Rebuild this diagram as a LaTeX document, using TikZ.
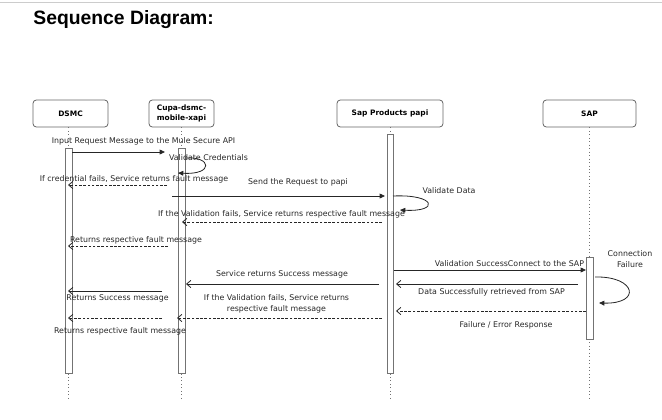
\documentclass[tikz,border=0pt]{standalone}
\usepackage{fontspec}
\setmainfont{DejaVu Sans}
\newfontfamily\titlefont{Liberation Sans}
\usepackage{tikz}
\usetikzlibrary{arrows,arrows.meta,positioning}

\begin{document}
\begin{tikzpicture}[x=0.75pt,y=-0.75pt,semithick,line width=0.6pt,
	head/.style={draw=black!60,rounded corners=2.5pt,minimum height=20.25pt,inner sep=1pt,align=center,font=\fontsize{5.6}{7}\selectfont\bfseries},
	bar/.style={draw=black!55,fill=white,line width=0.6pt},
	lifeline/.style={draw=black!55,dotted,line width=0.6pt},
	msg/.style={font=\fontsize{5.9}{8.2}\selectfont,inner sep=0pt,align=center,text=black!85},
	call/.style={-{Triangle[length=4pt,width=3.6pt]},black!85},
	reply/.style={-{Straight Barb[length=3.2pt,width=5.4pt]},black!85},
	fault/.style={-{Straight Barb[length=3.2pt,width=5.4pt]},black!85,dash pattern=on 2pt off 1.2pt}]
	\useasboundingbox (0,0) rectangle (662,419);
	\draw[black!20] (0,2) -- (662,2);
	\node[anchor=base west,inner sep=0pt,font=\titlefont\fontsize{14.5}{16}\selectfont\bfseries] (title) at (33,24) {Sequence Diagram:};

	% lifelines
	\node[head,minimum width=56.25pt]	(dsmc)	at (70.5,113.5)	{DSMC};
	\node[head,minimum width=48.75pt]	(cupa)	at (181.5,113.5)	{Cupa-dsmc-\\mobile-xapi};
	\node[head,minimum width=79.5pt]	(papi)	at (390,113.5)	{Sap Products papi};
	\node[head,minimum width=69.75pt]	(sap)	at (589.5,113.5)	{SAP};
	\coordinate (dsmcend) at (68.5,400);
	\coordinate (cupaend) at (181.5,400);
	\coordinate (papiend) at (390,400);
	\coordinate (sapend) at (589.5,400);
	\draw[lifeline] (dsmc.south -| dsmcend) -- (dsmcend);
	\draw[lifeline] (cupa.south) -- (cupaend);
	\draw[lifeline] (papi.south) -- (papiend);
	\draw[lifeline] (sap.south) -- (sapend);
	\draw[bar] (65,148) rectangle (72,373);
	\draw[bar] (178,148) rectangle (185,373);
	\draw[bar] (387,134) rectangle (393,373);
	\draw[bar] (586,257) rectangle (593,339);

	% labels
	\node[msg] (l1)	at (143.5,141)	{Input Request Message to the Mule Secure API};
	\node[msg] (l2)	at (208.5,158)	{Validate Credentials};
	\node[msg] (l3)	at (134,179)	{If credential fails, Service returns fault message};
	\node[msg] (l4)	at (298,182)	{Send the Request to papi};
	\node[msg] (l5)	at (449,191)	{Validate Data};
	\node[msg] (l6)	at (281.5,214)	{If the Validation fails, Service returns respective fault message};
	\node[msg] (l7)	at (136,240)	{Returns respective fault message};
	\node[msg] (l8)	at (509.5,264)	{Validation SuccessConnect to the SAP};
	\node[msg] (l9)	at (630,259)	{Connection\\Failure};
	\node[msg] (l10)	at (282,274)	{Service returns Success message};
	\node[msg] (l11)	at (491.5,292)	{Data Successfully retrieved from SAP};
	\node[msg] (l12)	at (117.5,298)	{Returns Success message};
	\node[msg] (l13)	at (276.5,303.5)	{If the Validation fails, Service returns\\respective fault message};
	\node[msg] (l14)	at (506,325)	{Failure / Error Response};
	\node[msg] (l15)	at (120,331)	{Returns respective fault message};

	% message ends
	\coordinate (s1) at (72,152);	\coordinate (e1) at (165,152);
	\coordinate (s2) at (185,158);	\coordinate (e2) at (178,173);
	\coordinate (s3) at (167,185);	\coordinate (e3) at (68,185);
	\coordinate (s4) at (172,196);	\coordinate (e4) at (385,196);
	\coordinate (s5) at (393,196);	\coordinate (e5) at (400,210);
	\coordinate (s6) at (382,222);	\coordinate (e6) at (182,222);
	\coordinate (s7) at (168,246);	\coordinate (e7) at (68,246);
	\coordinate (s8) at (394,270);	\coordinate (e8) at (586,270);
	\coordinate (s9) at (595,277);	\coordinate (e9) at (599,303);
	\coordinate (s10) at (379,284);	\coordinate (e10) at (186,284);
	\coordinate (s11) at (578,284);	\coordinate (e11) at (396,284);
	\coordinate (s12) at (162,291);	\coordinate (e12) at (68,291);
	\coordinate (s13) at (382,318);	\coordinate (e13) at (177,318);
	\coordinate (s14) at (586,311);	\coordinate (e14) at (396,311);
	\coordinate (s15) at (162,318);	\coordinate (e15) at (68,318);

	\path
		(s1)	edge	[call]	(e1)
		(s3)	edge	[fault]	(e3)
		(s4)	edge	[call]	(e4)
		(s6)	edge	[fault]	(e6)
		(s7)	edge	[fault]	(e7)
		(s8)	edge	[call]	(e8)
		(s10)	edge	[reply]	(e10)
		(s11)	edge	[reply]	(e11)
		(s12)	edge	[reply]	(e12)
		(s13)	edge	[fault]	(e13)
		(s14)	edge	[fault]	(e14)
		(s15)	edge	[fault]	(e15)
	;
	\draw[call] (s2) .. controls (212,156) and (214,175) .. (e2);
	\draw[call] (s5) .. controls (436,194) and (440,212) .. (e5);
	\draw[call] (s9) .. controls (636,276) and (642,304) .. (e9);
\end{tikzpicture}
\end{document}
